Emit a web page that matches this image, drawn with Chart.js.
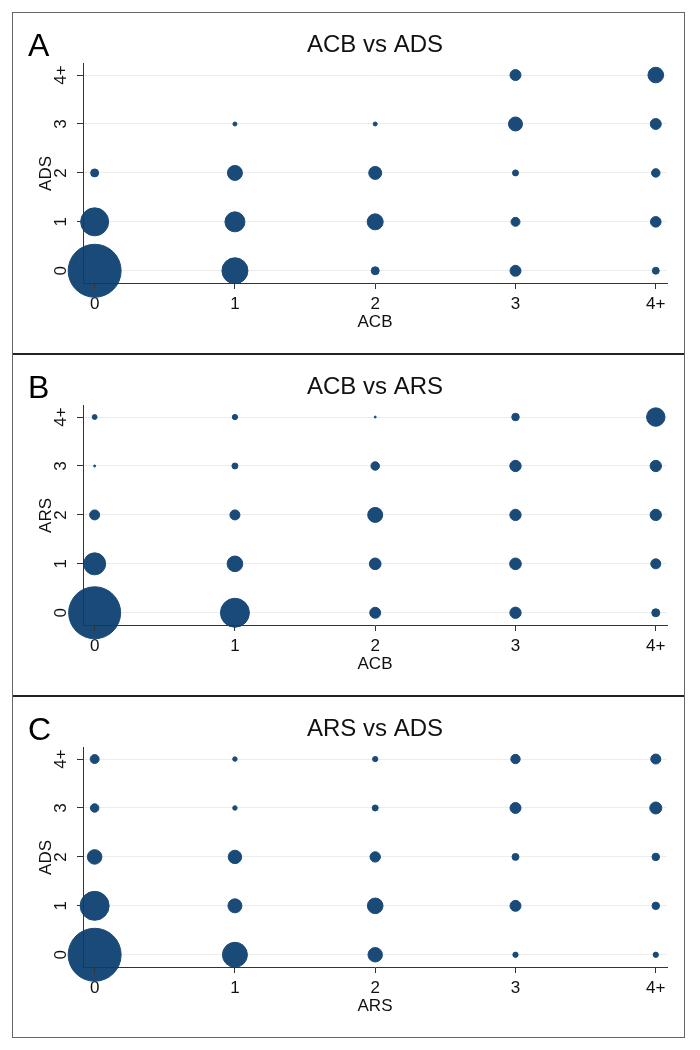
<!DOCTYPE html>
<html>
<head>
<meta charset="utf-8">
<script src="https://cdn.jsdelivr.net/npm/chart.js@4.4.0/dist/chart.umd.min.js"></script>
<style>
  body { margin: 0; background: #fff; }
  #marco { position: absolute; left: 12px; top: 12px; width: 671px; border: 1px solid #666; }
  .panel { position: relative; width: 671px; height: 340px; }
  .sep { height: 2px; background: #222; }
  canvas { display: block; }
</style>
</head>
<body>
<div id="marco">
  <div class="panel"><canvas id="graficoA" width="671" height="340"></canvas></div>
  <div class="sep"></div>
  <div class="panel"><canvas id="graficoB" width="671" height="340"></canvas></div>
  <div class="sep"></div>
  <div class="panel"><canvas id="graficoC" width="671" height="340"></canvas></div>
</div>
<script>
// categorias de los dos ejes (0..4+)
const categorias = ["0", "1", "2", "3", "4+"]

// frecuencia relativa por celda: cada fila es un valor del eje x, cada columna un valor del eje y (0..4+)
const frecACB_ADS = [
  [702, 196, 16, 0, 0],
  [169, 100, 56, 4, 0],
  [16, 64, 42, 4, 0],
  [30, 20, 9, 49, 30],
  [12, 28, 18, 30, 61]
]
const frecACB_ARS = [
  [676, 121, 25, 1, 6],
  [210, 61, 25, 9, 7],
  [30, 34, 56, 18, 1],
  [32, 34, 32, 32, 14],
  [16, 25, 32, 32, 85]
]
const frecARS_ADS = [
  [702, 210, 53, 18, 20],
  [156, 49, 45, 5, 5],
  [52, 61, 27, 9, 7],
  [7, 30, 12, 30, 22],
  [7, 14, 14, 36, 25]
]

const azul = "#1a4a78"
const fuente = "'Liberation Sans', Arial, sans-serif"

// pasa la matriz de frecuencias a puntos de burbuja (area proporcional a la frecuencia)
const aBurbujas = (matriz) => {
  let puntos = []
  matriz.forEach((fila, x) => {
    fila.forEach((f, y) => {
      if (f > 0) puntos.push({x: x, y: y, r: Math.sqrt(f)})
    })
  })
  return puntos
}

// letra del panel arriba a la izquierda
const letraPanel = {
  id: "letraPanel",
  afterDraw(chart, args, opts) {
    const ctx = chart.ctx
    ctx.save()
    ctx.font = `32px ${fuente}`
    ctx.fillStyle = "#000"
    ctx.textBaseline = "alphabetic"
    ctx.fillText(opts.texto, 15, 43)
    ctx.restore()
  }
}

const fijarTicks = (scale) => {
  scale.ticks = [0, 1, 2, 3, 4].map(v => ({value: v}))
}

const crearGrafico = (id, letra, titulo, ejeX, ejeY, matriz) => {
  new Chart(document.getElementById(id), {
    type: "bubble",
    data: {
      datasets: [{
        data: aBurbujas(matriz),
        backgroundColor: azul,
        borderColor: azul,
        borderWidth: 1,
        clip: false
      }]
    },
    plugins: [letraPanel],
    options: {
      responsive: false,
      animation: false,
      //sin autoPadding: la burbuja grande no debe achicar el area del grafico
      layout: { autoPadding: false, padding: { left: 0, right: 17, top: 0, bottom: 0 } },
      plugins: {
        legend: { display: false },
        tooltip: { enabled: false },
        letraPanel: { texto: letra },
        title: {
          display: true,
          text: titulo,
          fullSize: false,
          color: "#111",
          font: { family: fuente, size: 24, weight: "normal" },
          padding: { top: 18, bottom: 4 }
        }
      },
      scales: {
        x: {
          type: "linear",
          min: -0.083,
          max: 4.08,
          afterBuildTicks: fijarTicks,
          afterFit: (s) => { s.height = 70 },
          grid: { display: true, drawOnChartArea: false, tickLength: 6, tickColor: "#333", z: 1 },
          border: { display: true, color: "#333", width: 1, z: 1 },
          ticks: {
            color: "#111",
            padding: 5,
            font: { family: fuente, size: 17 },
            callback: (v) => categorias[v]
          },
          title: {
            display: true,
            text: ejeX,
            color: "#111",
            font: { family: fuente, size: 17 },
            padding: { top: 0, bottom: 20 }
          }
        },
        y: {
          type: "linear",
          min: -0.25,
          max: 4.23,
          afterBuildTicks: fijarTicks,
          afterFit: (s) => { s.width = 70 },
          grid: { color: "#ececec", lineWidth: 1, tickLength: 6, tickColor: "#333" },
          border: { display: true, color: "#333", width: 1, z: 1 },
          ticks: {
            color: "#111",
            padding: 6,
            minRotation: 90,
            maxRotation: 90,
            crossAlign: "center",
            font: { family: fuente, size: 17 },
            callback: (v) => categorias[v]
          },
          title: {
            display: true,
            text: ejeY,
            color: "#111",
            font: { family: fuente, size: 17 },
            padding: { top: 23, bottom: 0 }
          }
        }
      }
    }
  })
}

crearGrafico("graficoA", "A", "ACB vs ADS", "ACB", "ADS", frecACB_ADS)
crearGrafico("graficoB", "B", "ACB vs ARS", "ACB", "ARS", frecACB_ARS)
crearGrafico("graficoC", "C", "ARS vs ADS", "ARS", "ADS", frecARS_ADS)
</script>
</body>
</html>
